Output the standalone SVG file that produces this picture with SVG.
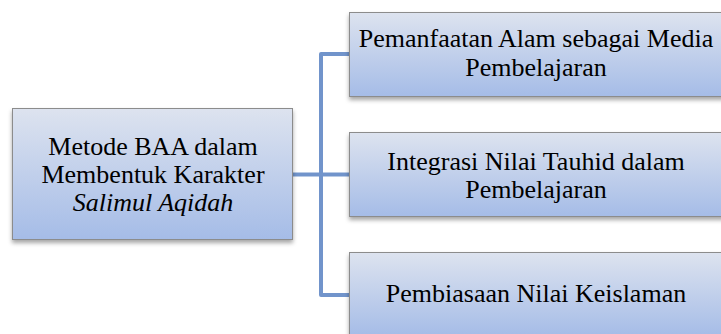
<svg xmlns="http://www.w3.org/2000/svg" width="721" height="334" viewBox="0 0 721 334">
<style>
.box{fill:url(#g);stroke:#8c8c8c;stroke-width:1;filter:url(#sh)}
.t{font-family:"Liberation Serif","Times New Roman",serif;font-size:26px;fill:#000;text-anchor:middle}
.c{fill:none;stroke:#7194cb;stroke-width:4;stroke-linejoin:round}
</style>
<defs>
<linearGradient id="g" x1="0" y1="0" x2="0" y2="1">
<stop offset="0" stop-color="#dde3ef"/>
<stop offset="1" stop-color="#a5bce7"/>
</linearGradient>
<filter id="sh" x="-5%" y="-10%" width="110%" height="130%">
<feDropShadow dx="0" dy="3" stdDeviation="2" flood-color="#000" flood-opacity="0.35"/>
</filter>
</defs>
<g id="connectors">
<path class="c" d="M293,174.5 H321"/>
<path class="c" d="M349,54 H321 V295 H349"/>
<path class="c" d="M321,174.5 H349"/>
</g>
<g id="root">
<rect class="box" x="12.5" y="108.5" width="280" height="131"/>
<text class="t" x="153" y="155">Metode BAA dalam</text>
<text class="t" x="153" y="183">Membentuk Karakter</text>
<text class="t" x="153" y="210.5" font-style="italic">Salimul Aqidah</text>
</g>
<g id="n1">
<rect class="box" x="349.5" y="12.5" width="375" height="84"/>
<text class="t" x="536" y="47">Pemanfaatan Alam sebagai Media</text>
<text class="t" x="536" y="75.5">Pembelajaran</text>
</g>
<g id="n2">
<rect class="box" x="349.5" y="132.5" width="375" height="84"/>
<text class="t" x="536" y="170">Integrasi Nilai Tauhid dalam</text>
<text class="t" x="536" y="198">Pembelajaran</text>
</g>
<g id="n3">
<rect class="box" x="349.5" y="252.5" width="375" height="84"/>
<text class="t" x="536" y="302">Pembiasaan Nilai Keislaman</text>
</g>
</svg>
